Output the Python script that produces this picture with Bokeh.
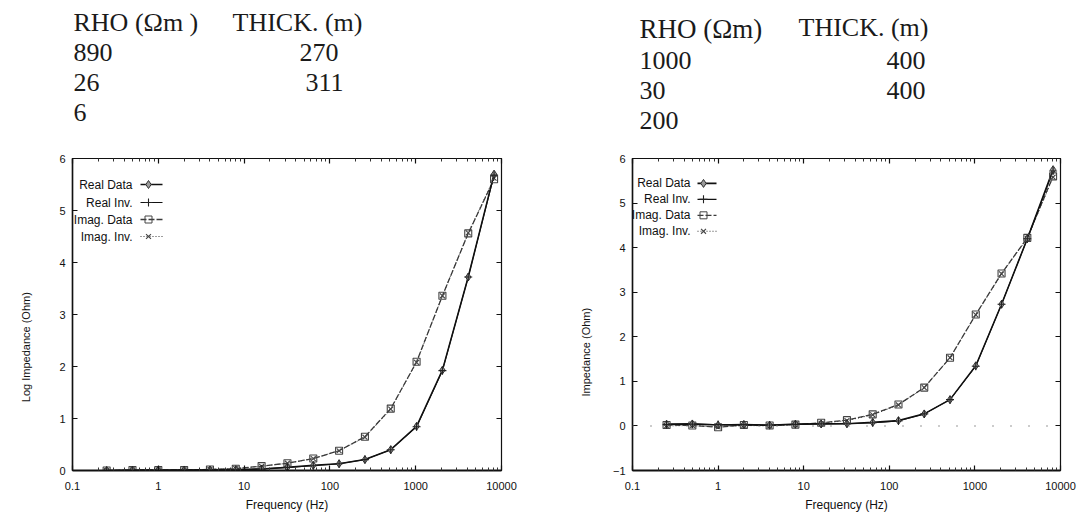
import math
from bokeh.plotting import figure
from bokeh.models import (Range1d, FixedTicker, LogAxis, LinearAxis, Label, Span,
                          ColumnDataSource)
from bokeh.layouts import column, row
from bokeh.embed import file_html
from bokeh.resources import INLINE
from bokeh.core.properties import value

# ---------------- data ----------------
freq_hz = [0.25, 0.5, 1, 2, 4, 8, 16, 32, 64, 128, 256, 512, 1024, 2048, 4096, 8192]

left_real_data = [0.0, 0.005, 0.005, 0.01, 0.01, 0.015, 0.03, 0.06, 0.10, 0.13, 0.21, 0.40, 0.85, 1.93, 3.72, 5.70]
left_real_inv  = [0.0, 0.005, 0.005, 0.01, 0.01, 0.015, 0.03, 0.06, 0.09, 0.13, 0.21, 0.40, 0.84, 1.92, 3.72, 5.68]
left_imag_data = [0.0, 0.01, 0.01, 0.01, 0.02, 0.035, 0.085, 0.14, 0.23, 0.38, 0.65, 1.19, 2.09, 3.36, 4.56, 5.60]
left_imag_inv  = [0.0, 0.01, 0.01, 0.01, 0.02, 0.035, 0.08, 0.14, 0.23, 0.38, 0.64, 1.18, 2.08, 3.36, 4.57, 5.62]

right_real_data = [0.04, 0.045, 0.02, 0.03, 0.015, 0.04, 0.045, 0.05, 0.08, 0.12, 0.27, 0.59, 1.35, 2.73, 4.20, 5.75]
right_real_inv  = [0.03, 0.04, 0.03, 0.03, 0.02, 0.035, 0.045, 0.05, 0.07, 0.11, 0.27, 0.59, 1.34, 2.73, 4.20, 5.72]
right_imag_data = [0.02, 0.01, -0.03, 0.02, 0.01, 0.03, 0.07, 0.13, 0.26, 0.48, 0.86, 1.53, 2.50, 3.42, 4.22, 5.60]
right_imag_inv  = [0.0, 0.01, -0.02, 0.01, 0.0, 0.03, 0.06, 0.12, 0.25, 0.47, 0.86, 1.53, 2.49, 3.41, 4.21, 5.58]

x_tick_values = [0.1, 1, 10, 100, 1000, 10000]
x_tick_labels = ["0.1", "1", "10", "100", "1000", "10000"]
left_y_ticks = [0, 1, 2, 3, 4, 5, 6]
right_y_ticks = [-1, 0, 1, 2, 3, 4, 5, 6]

legend_labels = ["Real Data", "Real Inv.", "Imag. Data", "Imag. Inv."]
x_axis_title = "Frequency (Hz)"
left_y_title = "Log Impedance (Ohm)"
right_y_title = "Impedance (Ohm)"

header_rho = "RHO (\u03A9m )"
header_rho_right = "RHO (\u03A9m)"
header_thick = "THICK. (m)"
left_rho = ["890", "26", "6"]
left_thick = ["270", "311"]
right_rho = ["1000", "30", "200"]
right_thick = ["400", "400"]

# ---------------- header ----------------
W = 1078
HH = 138
CH = 377
hdr = figure(width=W, height=HH, x_range=Range1d(0, W), y_range=Range1d(HH, 0),
             x_axis_type=None, y_axis_type=None, output_backend="svg",
             toolbar_location=None, min_border=0)
hdr.grid.visible = False
hdr.outline_line_color = None

serif = value("Liberation Serif")
SANS = "Liberation Sans"


def htext(xs, ys, texts, align, size="26px"):
    hdr.text(x=xs, y=ys, text=texts, text_font=serif, text_font_size=size,
             text_align=align, text_baseline="alphabetic", text_color="#1a1a1a")


# left block
htext([73, 232], [22, 22], [header_rho, header_thick], "left")
htext([73, 73, 73], [52, 82, 112], left_rho, "left")
htext([338, 343], [52, 82], left_thick, "right")
# right block
htext([639], [28], [header_rho_right], "left", size="27px")
htext([798], [27], [header_thick], "left")
htext([639, 639, 639], [60, 90, 120], right_rho, "left")
htext([925, 925], [60, 90], right_thick, "right")


# ---------------- y-axis titles (narrow strips) ----------------
def title_strip(width, x, page_y, text):
    f = figure(width=width, height=CH, x_range=Range1d(0, width), y_range=Range1d(0, CH),
               x_axis_type=None, y_axis_type=None, output_backend="svg",
               toolbar_location=None, min_border=0)
    f.grid.visible = False
    f.outline_line_color = None
    f.text(x=[x], y=[CH - (page_y - HH)], text=[text], angle=math.pi / 2,
           text_align="center", text_baseline="middle", text_font=value(SANS),
           text_font_size="11px", text_color="#111111")
    return f


# ---------------- charts ----------------
minor_x = [k * 10 ** d for d in range(-1, 4) for k in range(2, 10)]


def style_axis(ax, labels=True):
    ax.major_tick_in = 5
    ax.major_tick_out = 0
    ax.minor_tick_in = 3
    ax.minor_tick_out = 0
    ax.axis_line_color = "#111111"
    ax.axis_line_width = 1.5
    ax.major_tick_line_color = "#111111"
    ax.major_tick_line_width = 1.2
    ax.minor_tick_line_color = "#333333"
    ax.major_label_text_font = SANS
    ax.major_label_text_font_size = "11px"
    ax.major_label_text_color = "#111111" if labels else None
    if not labels:
        ax.major_label_standoff = 0


def make_chart(width, bl, br, bt, bb, y_lo, y_hi, y_ticks, real_d, real_i, imag_d, imag_i,
               page_left, page_top, leg):
    p = figure(width=width, height=CH, x_axis_type="log",
               x_range=Range1d(x_tick_values[0], x_tick_values[-1]),
               y_range=Range1d(y_lo, y_hi), output_backend="svg",
               toolbar_location=None, min_border_left=bl, min_border_right=br,
               min_border_top=bt, min_border_bottom=bb)
    p.grid.visible = False
    p.outline_line_color = "#111111"
    p.outline_line_width = 1.2
    p.background_fill_color = "white"
    p.border_fill_color = "white"

    xa = p.xaxis[0]
    ya = p.yaxis[0]
    xa.ticker = FixedTicker(ticks=x_tick_values, minor_ticks=minor_x)
    ya.ticker = FixedTicker(ticks=y_ticks, minor_ticks=[])
    xa.major_label_overrides = dict(zip(x_tick_values, x_tick_labels))
    style_axis(xa)
    style_axis(ya)
    xa.axis_line_width = 2.0
    xa.major_label_standoff = 11
    ya.major_label_standoff = 7
    xa.axis_label = x_axis_title
    xa.axis_label_standoff = 5
    xa.axis_label_text_font = SANS
    xa.axis_label_text_font_size = "12px"
    xa.axis_label_text_font_style = "normal"
    xa.axis_label_text_color = "#111111"

    top = LogAxis(ticker=FixedTicker(ticks=x_tick_values, minor_ticks=minor_x))
    style_axis(top, labels=False)
    top.axis_line_width = 1.0
    p.add_layout(top, "above")
    rgt = LinearAxis(ticker=FixedTicker(ticks=y_ticks, minor_ticks=[]))
    style_axis(rgt, labels=False)
    rgt.axis_line_width = 1.0
    p.add_layout(rgt, "right")

    src = ColumnDataSource(dict(f=freq_hz, rd=real_d, ri=real_i, idt=imag_d, ii=imag_i))
    p.line("f", "idt", source=src, line_color="#3a3a3a", line_width=1.3, line_dash="6 2")
    p.line("f", "ii", source=src, line_color="#3a3a3a", line_width=1.0, line_dash="1 2")
    p.line("f", "rd", source=src, line_color="#111111", line_width=1.6)
    p.line("f", "ri", source=src, line_color="#111111", line_width=1.0)
    p.scatter("f", "idt", source=src, marker="square", size=7, fill_color=None,
              line_color="#444444", line_width=1.1)
    p.scatter("f", "ii", source=src, marker="x", size=7, line_color="#444444", line_width=1.1)
    p.scatter("f", "rd", source=src, marker="diamond", size=8, fill_color="#9a9a9a",
              line_color="#333333", line_width=1.0)
    p.scatter("f", "ri", source=src, marker="cross", size=8, line_color="#222222", line_width=1.1)

    # frame geometry (page pixels) used to place the legend decorations
    fw = width - bl - br
    fh = CH - bt - bb
    frame_bottom = page_top + fh
    lx0 = math.log10(x_tick_values[0])
    ldec = math.log10(x_tick_values[-1]) - lx0

    def xd(off):
        return 10 ** (lx0 + off / fw * ldec)

    def yd(py):
        return y_hi - (py - page_top) / fh * (y_hi - y_lo)

    # legend: right-aligned text followed by a line sample
    text_right, s0, s1, sm, rows = leg
    styles = [
        dict(line=dict(line_color="#111111", line_width=1.6),
             mk=dict(marker="diamond", size=8, fill_color="#9a9a9a", line_color="#333333")),
        dict(line=dict(line_color="#111111", line_width=1.2),
             mk=dict(marker="cross", size=8, line_color="#222222", line_width=1.1)),
        dict(line=dict(line_color="#3a3a3a", line_width=1.3, line_dash="6 2"),
             mk=dict(marker="square", size=7, fill_color=None, line_color="#444444")),
        dict(line=dict(line_color="#3a3a3a", line_width=1.2, line_dash="1 2"),
             mk=dict(marker="x", size=7, line_color="#444444", line_width=1.1)),
    ]
    for lab, py, st in zip(legend_labels, rows, styles):
        p.add_layout(Label(x=text_right, y=frame_bottom - py, x_units="screen",
                           y_units="screen", text=lab, text_align="right",
                           text_baseline="middle", text_font=SANS,
                           text_font_size="12px", text_color="#111111"))
        yv = yd(py)
        p.line(x=[xd(s0), xd(s1)], y=[yv, yv], **st["line"])
        p.scatter(x=[xd(sm)], y=[yv], **st["mk"])
    return p


# left chart: page x 45..540, frame 72..501, frame y 158..470
yt1 = title_strip(45, 25, 366, left_y_title)
p1 = make_chart(495, 27, 39, 20, 45, 0, 6, left_y_ticks,
                left_real_data, left_real_inv, left_imag_data, left_imag_inv,
                page_left=72, page_top=158,
                leg=(60, 68, 90, 76, [184, 202, 219, 236]))

# right chart: page x 600..1078, frame 632..1060, frame y 158..471
yt2 = title_strip(60, 45, 372, right_y_title)
p2 = make_chart(478, 32, 18, 20, 44, -1, 6, right_y_ticks,
                right_real_data, right_real_inv, right_imag_data, right_imag_inv,
                page_left=632, page_top=158,
                leg=(58, 65, 84, 71, [183, 199, 215, 231]))
p2.add_layout(Span(location=0, dimension="width", line_color="#777777",
                   line_width=1.5, line_dash="1 17"))

layout = column(hdr, row(yt1, p1, yt2, p2))
open("out.html", "w").write(file_html(layout, INLINE))
